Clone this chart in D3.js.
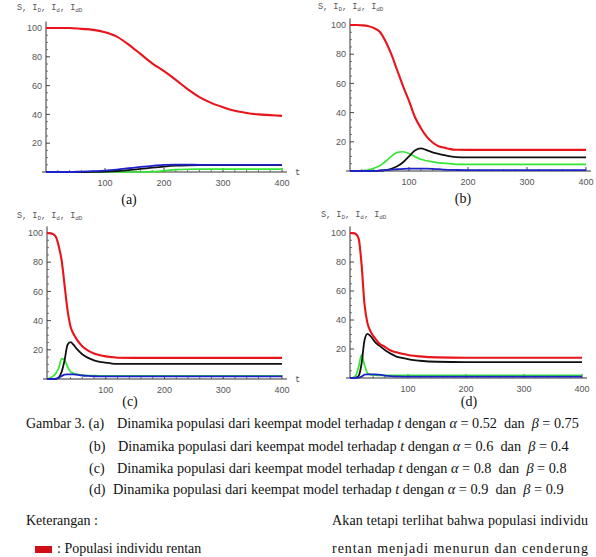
<!DOCTYPE html>
<html><head><meta charset="utf-8">
<script src="https://cdn.jsdelivr.net/npm/d3@7"></script>
<style>body{margin:0;background:#fff}svg{display:block}</style>
</head><body>
<svg id="c" width="596" height="557"></svg>
<script>
// ---- data ----
const tA = [0,20,40,60,80,100,120,140,160,180,200,220,240,260,280,300,320,340,360,380,400];
const S_a   = [100,100,100,99.4,98.7,97,94,88.5,82,75.5,70,64,57.5,52,48,45,42.5,41,40,39.5,39];
const ID_a  = [0,0,0,0,0.1,0.3,0.7,1.3,2.1,3.0,3.8,4.4,4.7,4.8,4.8,4.8,4.8,4.8,4.8,4.8,4.8];
const Id_a  = [0,0,0,0,0,0,0,0,0,0.2,0.9,1.6,1.9,2,2,2,2,2,2,2,2];
const IdD_a = [0,0,0,0.3,0.6,1.0,1.7,2.6,3.5,4.3,4.9,5.1,5.1,5.0,5.0,5.0,5.0,5.0,5.0,5.0,5.0];

const tB = [0,10,20,30,40,50,60,70,80,90,100,110,120,130,140,150,160,170,180,200,250,300,350,400];
const S_b   = [100,100,99.8,99.3,98,95.5,89,80,69,58,48,37,29.5,23.5,19.5,17,16,15,14.6,14.5,14.5,14.5,14.5,14.5];
const ID_b  = [0,0,0,0,0.1,0.3,0.6,1.5,3.2,6,10,14,15.5,14.3,12.8,11.8,10.8,10,9.5,9.3,9.3,9.3,9.3,9.3];
const Id_b  = [0,0.1,0.3,0.7,1.8,3.5,6.5,10,12.8,13.2,12,9.8,8,7,6.2,5.6,5.3,5,4.6,4.5,4.5,4.5,4.5,4.5];
const IdD_b = [0,0,0,0,0.1,0.3,0.6,1.0,1.3,1.5,1.6,1.6,1.6,1.6,1.5,1.3,1.0,0.8,0.7,0.6,0.6,0.6,0.6,0.6];

const tC = [0,5,10,15,20,25,30,35,40,45,50,60,70,80,90,100,110,120,150,200,250,300,350,400];
const S_c   = [100,99.8,99.3,97.5,91,81,64,47,36,31,27.5,22.5,19.5,17.5,16.3,15.5,15,14.6,14.5,14.5,14.5,14.5,14.5,14.5];
const ID_c  = [0,0,0,0.1,1.2,5,13,23.5,25.3,23.5,21,17,14.5,12.8,11.8,11.2,10.6,10.3,10.3,10.3,10.3,10.3,10.3,10.3];
const Id_c  = [0,0.7,1.8,3.8,7.5,14,13,8.3,5,3.9,3.4,2.6,2.4,2.3,2.2,2.2,2.2,2.2,2.2,2.2,2.2,2.2,2.2,2.2];
const IdD_c = [0,0,0,0.2,0.8,2,3,3.2,3.2,3.2,3,2.4,2.1,1.9,1.8,1.8,1.8,1.8,1.8,1.8,1.8,1.8,1.8,1.8];

const tD = [0,5,10,15,20,25,30,35,40,45,50,60,70,80,90,100,110,120,150,200,250,300,350,400];
const S_d   = [100,99.9,99.3,96,78,51,38,32.5,29,26.5,24,21.5,19,17.7,16.7,15.9,15.3,14.9,14.2,14,14,14,14,14];
const ID_d  = [0,0,0.2,1.6,10,26,30.5,29,26.5,24,22.5,19.3,16.8,14.8,13.8,13,12.3,11.9,11.2,11,11,11,11,11];
const Id_d  = [0,0.2,1.8,8,16,9,3.5,2.3,2,1.9,1.8,1.8,1.8,1.8,1.8,1.8,1.8,1.8,1.8,1.8,1.8,1.8,1.8,1.8];
const IdD_d = [0,0,0,0.2,1,2.3,2.5,2.5,2.5,2.4,2.3,1.7,1.3,1.1,1,1,1,1,1,1,1,1,1,1];

const xTicks = [100,200,300,400];
const yTicks = [20,40,60,80,100];
const panelLabels = ["(a)","(b)","(c)","(d)"];

const captionLabels = ["Gambar 3. (a)","(b)","(c)","(d)"];
const captionAlpha = ["0.52","0.6","0.8","0.9"];
const captionBeta  = ["0.75","0.4","0.8","0.9"];

// ---- drawing ----
const svg = d3.select("#c");
const colors = {S:"#e8141a", ID:"#111111", Id:"#33e633", IdD:"#1c22c8"};
const sans = "'Liberation Sans', Arial, sans-serif";
const mono = "'Liberation Mono', 'Courier New', monospace";
const ser = "'Liberation Serif', 'Times New Roman', serif";

const panels = [
  {t:tA, S:S_a, ID:ID_a, Id:Id_a, IdD:IdD_a, x0:46, x1:282, yb:172, yt:28, title:[17,10], tl:true, lab:[129,204]},
  {t:tB, S:S_b, ID:ID_b, Id:Id_b, IdD:IdD_b, x0:350, x1:586, yb:171, yt:25, title:[318,9], tl:false, lab:[463,203]},
  {t:tC, S:S_c, ID:ID_c, Id:Id_c, IdD:IdD_c, x0:47, x1:282, yb:379, yt:233, title:[17,218], tl:true, lab:[130,406]},
  {t:tD, S:S_d, ID:ID_d, Id:Id_d, IdD:IdD_d, x0:350, x1:582, yb:378, yt:233, title:[321,217], tl:false, lab:[469,406]}
];

panels.forEach((p,i)=>{
  const x = d3.scaleLinear().domain([0,400]).range([p.x0,p.x1]);
  const y = d3.scaleLinear().domain([0,100]).range([p.yb,p.yt]);
  const g = svg.append("g");
  g.append("line").attr("x1",p.x0-4).attr("x2",p.x1+5).attr("y1",p.yb).attr("y2",p.yb)
    .attr("stroke","#333").attr("stroke-width",1);
  g.append("line").attr("x1",p.x0).attr("x2",p.x0).attr("y1",p.yb).attr("y2",y(104.5))
    .attr("stroke","#333").attr("stroke-width",1);
  const xm = d3.range(20,401,20).filter(v=>v%100!==0);
  g.selectAll(null).data(xm).join("line").attr("x1",d=>x(d)).attr("x2",d=>x(d))
    .attr("y1",p.yb).attr("y2",p.yb-2).attr("stroke","#555").attr("stroke-width",0.8);
  const ym = d3.range(5,101,5).filter(v=>v%20!==0);
  g.selectAll(null).data(ym).join("line").attr("y1",d=>y(d)).attr("y2",d=>y(d))
    .attr("x1",p.x0).attr("x2",p.x0+2).attr("stroke","#555").attr("stroke-width",0.8);
  g.selectAll(null).data(xTicks).join("line").attr("x1",d=>x(d)).attr("x2",d=>x(d))
    .attr("y1",p.yb).attr("y2",p.yb-4).attr("stroke","#333").attr("stroke-width",0.9);
  g.selectAll(null).data(yTicks).join("line").attr("y1",d=>y(d)).attr("y2",d=>y(d))
    .attr("x1",p.x0).attr("x2",p.x0+4).attr("stroke","#333").attr("stroke-width",0.9);
  g.selectAll(null).data(xTicks).join("text").attr("x",d=>x(d)).attr("y",p.yb+14)
    .attr("text-anchor","middle").attr("font-family",sans)
    .attr("font-size",9).attr("fill","#555").text(d=>d);
  g.selectAll(null).data(yTicks).join("text").attr("x",p.x0-4).attr("y",d=>y(d)+3.2)
    .attr("text-anchor","end").attr("font-family",sans)
    .attr("font-size",9).attr("fill","#555").text(d=>d);
  const tt = g.append("text").attr("x",p.title[0]).attr("y",p.title[1])
    .attr("font-family",mono).attr("font-size",8.5).attr("fill","#555");
  tt.append("tspan").text("S, I");
  tt.append("tspan").attr("font-size",6).attr("dy",1.5).text("D");
  tt.append("tspan").attr("dy",-1.5).text(", I");
  tt.append("tspan").attr("font-size",6).attr("dy",1.5).text("d");
  tt.append("tspan").attr("dy",-1.5).text(", I");
  tt.append("tspan").attr("font-size",6).attr("dy",1.5).text("dD");
  if(p.tl){
    g.append("text").attr("x",295).attr("y",p.yb+3).attr("font-family",mono)
      .attr("font-size",9).attr("fill","#555").text("t");
  }
  const line = d3.line().x((d,k)=>x(p.t[k])).y(d=>y(d)).curve(d3.curveMonotoneX);
  [["Id",1.7],["ID",1.8],["IdD",1.8],["S",2.1]].forEach(([k,w])=>{
    g.append("path").attr("d",line(p[k])).attr("fill","none").attr("stroke",colors[k])
      .attr("stroke-width",w).attr("stroke-linejoin","round");
  });
  svg.append("text").attr("x",p.lab[0]).attr("y",p.lab[1]).attr("text-anchor","middle")
    .attr("font-family",ser).attr("font-size",14).attr("fill","#111")
    .text(panelLabels[i]);
});

// ---- captions ----
const capY = [428,451,473,494];
const labX = [26,89,89,89];
const bodyX = [117,118,117,113];
const bodyEnd = [579,569,567,564];
function fitText(sel, target, base){
  const len = sel.node().getComputedTextLength();
  sel.attr("font-size", base*target/len);
}
captionLabels.forEach((lab,i)=>{
  svg.append("text").attr("x",labX[i]).attr("y",capY[i]).attr("font-family",ser).attr("font-size",14)
    .attr("fill","#111").text(lab);
  const t = svg.append("text").attr("x",bodyX[i]).attr("y",capY[i]).attr("font-family",ser).attr("font-size",14)
    .attr("fill","#111").attr("xml:space","preserve").style("white-space","pre");
  t.append("tspan").text("Dinamika populasi dari keempat model terhadap ");
  t.append("tspan").attr("font-style","italic").text("t");
  t.append("tspan").text(" dengan ");
  t.append("tspan").attr("font-style","italic").text("α");
  t.append("tspan").text(" = " + captionAlpha[i] + "  dan  ");
  t.append("tspan").attr("font-style","italic").text("β");
  t.append("tspan").text(" = " + captionBeta[i]);
  fitText(t, bodyEnd[i]-bodyX[i], 14);
});

svg.append("text").attr("x",26).attr("y",525).attr("font-family",ser).attr("font-size",14).attr("fill","#111")
  .text("Keterangan :");
svg.append("text").attr("x",332).attr("y",525).attr("font-family",ser).attr("font-size",14).attr("fill","#111")
  .attr("textLength",256).attr("lengthAdjust","spacing").text("Akan tetapi terlihat bahwa populasi individu");
svg.append("rect").attr("x",35).attr("y",546).attr("width",17).attr("height",7).attr("fill","#d01018");
svg.append("text").attr("x",57).attr("y",553).attr("font-family",ser).attr("font-size",14).attr("fill","#111")
  .text(": Populasi individu rentan");
svg.append("text").attr("x",332).attr("y",553).attr("font-family",ser).attr("font-size",14).attr("fill","#111")
  .attr("textLength",256).attr("lengthAdjust","spacing").text("rentan menjadi menurun dan cenderung");
</script>
</body></html>
